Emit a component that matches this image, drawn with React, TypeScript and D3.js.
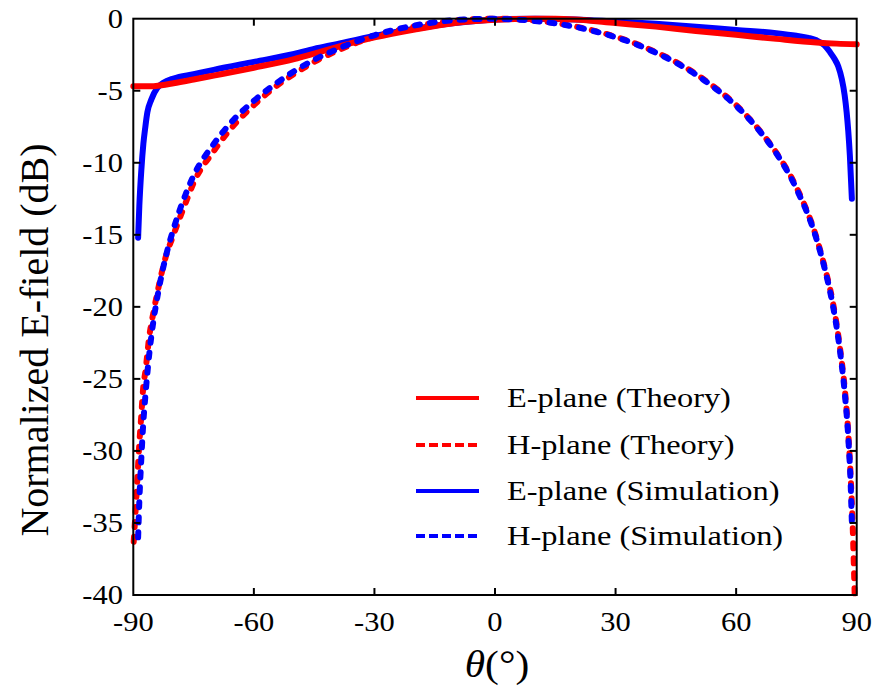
import React from "react";
import * as d3 from "d3";

const xTicks = [-90, -60, -30, 0, 30, 60, 90];
const yTicks = [0, -5, -10, -15, -20, -25, -30, -35, -40];

const eTheoryTheta = [-90, -87, -85, -83, -80, -75, -70, -60, -50, -45, -40, -30, -20, -10, 0, 5, 10, 15, 20, 30, 40, 50, 60, 70, 80, 85, 90];
const eTheoryVal = [-4.68, -4.68, -4.68, -4.62, -4.48, -4.22, -3.95, -3.4, -2.8, -2.42, -2.02, -1.3, -0.75, -0.3, -0.08, -0.02, 0, 0, -0.05, -0.3, -0.55, -0.85, -1.12, -1.4, -1.65, -1.73, -1.78];

const hTheoryTheta = [-89.9, -89.5, -89, -88.5, -88, -87.5, -87, -86, -85, -84, -82, -80, -77, -75, -70, -65, -60, -55, -50, -45, -40, -35, -30, -25, -20, -15, -10, -5, 0, 5, 10, 15, 20, 25, 30, 35, 40, 45, 50, 55, 60, 65, 70, 75, 80, 82, 84, 85, 86, 87, 88, 88.5, 89, 89.3, 89.5];
const hTheoryVal = [-36.3, -34.5, -32, -29.5, -27.5, -25.5, -24.5, -22, -20.4, -19.0, -16.6, -15.0, -12.8, -11.4, -9.2, -7.4, -6.0, -4.8, -3.84, -3.0, -2.32, -1.73, -1.25, -0.86, -0.54, -0.3, -0.13, -0.03, 0, -0.03, -0.13, -0.3, -0.54, -0.86, -1.25, -1.73, -2.32, -3.0, -3.84, -4.83, -6.0, -7.48, -9.3, -11.7, -15.2, -17.2, -19.6, -21.2, -23.2, -25.6, -29.2, -31.8, -35.2, -38, -40];

const eSimTheta = [-88.8, -88.5, -88, -87.5, -87, -86.5, -85.5, -84, -82.5, -80, -75, -70, -60, -50, -45, -40, -30, -20, -10, 0, 10, 20, 30, 40, 50, 60, 70, 75, 78, 80, 82, 83.3, 84.5, 85.4, 86.3, 87, 87.5, 87.9, 88.3, 88.8];
const eSimVal = [-15.2, -13, -10.5, -8.7, -7.5, -6.5, -5.6, -4.8, -4.45, -4.15, -3.85, -3.55, -3.0, -2.45, -2.1, -1.8, -1.2, -0.7, -0.3, -0.05, 0, -0.05, -0.2, -0.35, -0.55, -0.78, -1.0, -1.18, -1.33, -1.5, -1.85, -2.3, -2.8, -3.3, -4.2, -5.3, -6.5, -7.8, -9.5, -12.5];

const hSimTheta = [-88.8, -88.5, -88, -87.5, -87, -86, -85, -84, -82, -80, -77, -75, -70, -65, -60, -55, -50, -45, -40, -35, -30, -25, -20, -15, -10, -5, 0, 5, 10, 15, 20, 25, 30, 35, 40, 45, 50, 55, 60, 65, 70, 75, 80, 82, 84, 85, 86, 87, 88, 88.5, 88.8];
const hSimVal = [-36, -33.5, -30.5, -28, -26.2, -23.2, -21, -19.3, -16.6, -14.6, -12.2, -10.9, -8.7, -7.0, -5.7, -4.6, -3.65, -2.85, -2.2, -1.63, -1.15, -0.77, -0.47, -0.25, -0.1, -0.02, -0.01, -0.05, -0.16, -0.33, -0.57, -0.89, -1.28, -1.76, -2.36, -3.05, -3.88, -4.88, -6.05, -7.52, -9.35, -11.8, -15.3, -17.3, -19.8, -21.4, -23.4, -25.9, -29.5, -32.3, -35];

const legendLabels = ["E-plane (Theory)", "H-plane (Theory)", "E-plane (Simulation)", "H-plane (Simulation)"];

const W = 874, H = 688;
const L = 133.3, R = 856.7, T = 18.7, B = 595;
const FONT = "'Liberation Serif', 'Times New Roman', serif";
const SX = 1.13;

export default function App() {
  const x = d3.scaleLinear().domain([-90, 90]).range([L, R]);
  const y = d3.scaleLinear().domain([-40, 0]).range([B, T]);
  const line = d3.line<[number, number]>().x(d => x(d[0])).y(d => y(d[1])).curve(d3.curveMonotoneX);
  const zip = (a: number[], b: number[]) => a.map((v, i) => [v, b[i]] as [number, number]);

  const series = [
    { key: "eSim", d: zip(eSimTheta, eSimVal), color: "#0000ff", dash: undefined },
    { key: "eTh", d: zip(eTheoryTheta, eTheoryVal), color: "#ff0000", dash: undefined },
    { key: "hTh", d: zip(hTheoryTheta, hTheoryVal), color: "#ff0000", dash: "5,10" },
    { key: "hSim", d: zip(hSimTheta, hSimVal), color: "#0000ff", dash: "5,10" },
  ];

  const legendStyles = [
    { color: "#ff0000", dash: undefined },
    { color: "#ff0000", dash: "9,4" },
    { color: "#0000ff", dash: undefined },
    { color: "#0000ff", dash: "9,4" },
  ];
  const legendY = [398, 445, 491, 536];

  return (
    <svg width={W} height={H} style={{ position: "absolute", left: 0, top: 0, background: "#fff" }} fontFamily={FONT}>
      {series.map(s => (
        <path key={s.key} d={line(s.d) || ""} fill="none" stroke={s.color} strokeWidth={6}
          strokeDasharray={s.dash} strokeLinecap="round" strokeLinejoin="round" />
      ))}
      <rect x={L} y={T} width={R - L} height={B - T} fill="none" stroke="#000" strokeWidth={2} />
      {xTicks.slice(1, -1).map(t => (
        <g key={"xt" + t}>
          <line x1={x(t)} x2={x(t)} y1={B} y2={B - 7} stroke="#000" strokeWidth={2} />
          <line x1={x(t)} x2={x(t)} y1={T} y2={T + 7} stroke="#000" strokeWidth={2} />
        </g>
      ))}
      {yTicks.slice(1, -1).map(t => (
        <g key={"yt" + t}>
          <line x1={L} x2={L + 7} y1={y(t)} y2={y(t)} stroke="#000" strokeWidth={2} />
          <line x1={R} x2={R - 7} y1={y(t)} y2={y(t)} stroke="#000" strokeWidth={2} />
        </g>
      ))}
      {xTicks.map(t => (
        <text key={"xl" + t} transform={`translate(${x(t)},631) scale(${SX},1)`} textAnchor="middle" fontSize={27} fill="#000">{String(t)}</text>
      ))}
      {yTicks.map(t => (
        <text key={"yl" + t} transform={`translate(123,${y(t) + 9}) scale(${SX},1)`} textAnchor="end" fontSize={27} fill="#000">{String(t)}</text>
      ))}
      <text transform={`translate(48,340) rotate(-90)`} textAnchor="middle" fontSize={40} fill="#000">Normalized E-field (dB)</text>
      <text transform={`translate(497,677) scale(1.12,1)`} textAnchor="middle" fontSize={37} fill="#000">
        <tspan fontStyle="italic">θ</tspan>
        <tspan>(°)</tspan>
      </text>
      {legendLabels.map((lab, i) => (
        <g key={lab}>
          <line x1={416} x2={479} y1={legendY[i]} y2={legendY[i]} stroke={legendStyles[i].color} strokeWidth={4}
            strokeDasharray={legendStyles[i].dash} />
          <text transform={`translate(507,${legendY[i] + 9}) scale(1.2,1)`} fontSize={27} fill="#000">{lab}</text>
        </g>
      ))}
    </svg>
  );
}
